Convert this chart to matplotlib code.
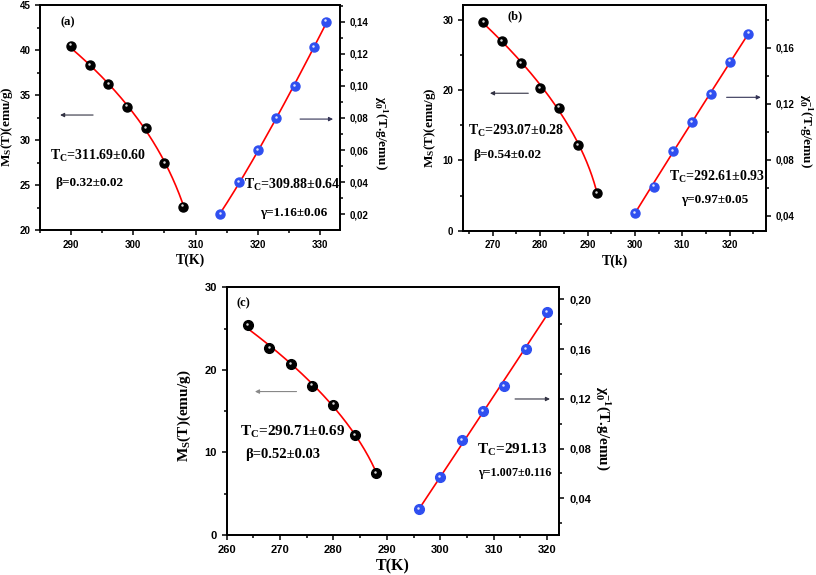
import numpy as np
import matplotlib
matplotlib.use("Agg")
import matplotlib.pyplot as plt
import matplotlib.transforms as mtransforms
from matplotlib.ticker import MultipleLocator, FuncFormatter

plt.rcParams["font.family"] = ["Liberation Serif", "DejaVu Serif"]
plt.rcParams["font.weight"] = "bold"
plt.rcParams["axes.labelweight"] = "bold"
plt.rcParams["mathtext.fontset"] = "custom"
plt.rcParams["mathtext.rm"] = "Liberation Serif:bold"
plt.rcParams["mathtext.it"] = "Liberation Serif:bold"
plt.rcParams["mathtext.bf"] = "Liberation Serif:bold"

# panel (a)
a_ms_t = [290, 293, 296, 299, 302, 305, 308]
a_ms = [40.5, 38.3, 36.2, 33.7, 31.3, 27.4, 22.6]
a_chi_t = [314, 317, 320, 323, 326, 329, 331]
a_chi = [0.020, 0.040, 0.060, 0.080, 0.100, 0.124, 0.140]
a_fit = {"tc_ms": 311.69, "beta": 0.32, "tc_chi": 309.88, "gamma": 1.16}

# panel (b)
b_ms_t = [268, 272, 276, 280, 284, 288, 292]
b_ms = [29.7, 27.0, 23.8, 20.3, 17.5, 12.2, 5.3]
b_chi_t = [300, 304, 308, 312, 316, 320, 324]
b_chi = [0.042, 0.061, 0.086, 0.107, 0.127, 0.150, 0.170]
b_fit = {"tc_ms": 293.07, "beta": 0.54, "tc_chi": 292.61, "gamma": 0.97}

# panel (c)
c_ms_t = [264, 268, 272, 276, 280, 284, 288]
c_ms = [25.4, 22.6, 20.7, 18.1, 15.8, 12.1, 7.5]
c_chi_t = [296, 300, 304, 308, 312, 316, 320]
c_chi = [0.031, 0.057, 0.087, 0.110, 0.130, 0.160, 0.190]
c_fit = {"tc_ms": 290.71, "beta": 0.52, "tc_chi": 291.13, "gamma": 1.007}

comma = FuncFormatter(lambda v, p: f"{v:.2f}".replace(".", ","))


def power_fit(t, vals, tc, expo, below):
    """Least-squares amplitude for the critical power law, returns smooth curve."""
    t = np.asarray(t, float)
    vals = np.asarray(vals, float)
    base = (tc - t) if below else (t - tc)
    g = base ** expo
    amp = np.sum(g * vals) / np.sum(g * g)
    tt = np.linspace(t.min(), t.max(), 200)
    bb = (tc - tt) if below else (tt - tc)
    return tt, amp * bb ** expo


def balls(ax, x, y, color, size):
    ax.plot(x, y, "o", color=color, ms=size, mec=color, zorder=4, clip_on=False)
    shift = mtransforms.offset_copy(ax.transData, fig=ax.figure, x=-0.6, y=0.9, units="points")
    ax.plot(x, y, "o", color="white", ms=1.8, mew=0, alpha=0.85, zorder=5,
            transform=shift, clip_on=False)


def style_axis(ax, tick_size):
    for s in ax.spines.values():
        s.set_linewidth(1.3)
    ax.tick_params(which="both", direction="out", width=1.1, top=False)
    ax.tick_params(which="major", length=3.5)
    ax.tick_params(which="minor", length=2)
    for lab in ax.get_xticklabels() + ax.get_yticklabels():
        lab.set_family("Liberation Sans")
        lab.set_weight("bold")
        lab.set_fontsize(tick_size)


def panel(fig, rect, ms_t, ms, chi_t, chi, fit, lims, steps, texts, arrows, sizes):
    ax = fig.add_axes(rect)
    ax2 = ax.twinx()
    ax.set_xlim(*lims["x"])
    ax.set_ylim(*lims["y1"])
    ax2.set_ylim(*lims["y2"])

    tt, mm = power_fit(ms_t, ms, fit["tc_ms"], fit["beta"], True)
    ax.plot(tt, mm, color="red", lw=1.2, zorder=3)
    balls(ax, ms_t, ms, "black", sizes["ball"])
    tt, cc = power_fit(chi_t, chi, fit["tc_chi"], fit["gamma"], False)
    ax2.plot(tt, cc, color="red", lw=1.2, zorder=3)
    balls(ax2, chi_t, chi, "#2f4ff0", sizes["ball"])

    ax.xaxis.set_major_locator(MultipleLocator(10))
    ax.xaxis.set_minor_locator(MultipleLocator(5))
    ax.yaxis.set_major_locator(MultipleLocator(steps[0]))
    ax.yaxis.set_minor_locator(MultipleLocator(steps[0] / 2))
    ax2.yaxis.set_major_locator(MultipleLocator(steps[1]))
    ax2.yaxis.set_minor_locator(MultipleLocator(steps[1] / 2))
    ax2.yaxis.set_major_formatter(comma)
    ax.tick_params(right=False, which="both")
    style_axis(ax, sizes["tick"])
    style_axis(ax2, sizes["tick"])

    ax.set_xlabel(texts["xlabel"], fontsize=sizes["label"], labelpad=3)
    ax.set_ylabel(r"$\mathrm{M_S}$(T)(emu/g)", fontsize=sizes["ylabel"])
    ax.yaxis.set_label_coords(*sizes["lpos"])
    ax2.set_ylabel(r"$\chi_0^{-1}$(T.g/emu)", fontsize=sizes["ylabel"], rotation=270,
                   va="center")
    ax2.yaxis.set_label_coords(*sizes["rpos"])

    ax.text(*texts["tag_xy"], texts["tag"], transform=ax.transAxes, fontsize=9,
            ha="center", va="center")
    for (x, y), s, fs in texts["notes"]:
        ax.text(x, y, s, transform=ax.transAxes, fontsize=fs, ha="left", va="center")
    for (x0, x1, y, col) in arrows:
        ax.annotate("", xy=(x1, y), xytext=(x0, y), xycoords="axes fraction",
                    arrowprops=dict(arrowstyle="-|>", color=col, lw=0.8,
                                    mutation_scale=6, shrinkA=0, shrinkB=0))
    return ax, ax2


fig = plt.figure(figsize=(8.16, 5.75), dpi=100)

panel(fig, [0.049, 0.600, 0.3676, 0.3913], a_ms_t, a_ms, a_chi_t, a_chi, a_fit,
      {"x": (285, 333.2), "y1": (20, 45), "y2": (0.0102, 0.1504)}, (5, 0.02),
      {"xlabel": "T(K)", "tag": "(a)", "tag_xy": (0.092, 0.924),
       "notes": [((0.035, 0.33), r"T$_\mathrm{C}$=311.69±0.60", 10),
                 ((0.05, 0.21), "β=0.32±0.02", 9.5),
                 ((0.68, 0.20), r"T$_\mathrm{C}$=309.88±0.64", 10),
                 ((0.733, 0.075), "γ=1.16±0.06", 9.5)]},
      [(0.177, 0.067, 0.511, "#333344"), (0.867, 0.977, 0.493, "#333355")],
      {"label": 10, "ylabel": 9.5, "tick": 7, "ball": 6.5,
       "lpos": (-0.083, 0.46), "rpos": (1.137, 0.43)})

panel(fig, [0.5674, 0.5988, 0.3713, 0.3925], b_ms_t, b_ms, b_chi_t, b_chi, b_fit,
      {"x": (263.7, 327.7), "y1": (0, 32.1), "y2": (0.0295, 0.1904)}, (10, 0.04),
      {"xlabel": "T(k)", "tag": "(b)", "tag_xy": (0.172, 0.948),
       "notes": [((0.015, 0.44), r"T$_\mathrm{C}$=293.07±0.28", 10),
                 ((0.034, 0.335), "β=0.54±0.02", 9.5),
                 ((0.68, 0.24), r"T$_\mathrm{C}$=292.61±0.93", 10),
                 ((0.72, 0.136), "γ=0.97±0.05", 9.5)]},
      [(0.2155, 0.089, 0.609, "#333344"), (0.870, 0.983, 0.591, "#333355")],
      {"label": 10, "ylabel": 9.5, "tick": 7, "ball": 6.5,
       "lpos": (-0.083, 0.457), "rpos": (1.132, 0.44)})

panel(fig, [0.2778, 0.0696, 0.4076, 0.4308], c_ms_t, c_ms, c_chi_t, c_chi, c_fit,
      {"x": (260, 322.3), "y1": (0, 30), "y2": (0.0105, 0.2097)}, (10, 0.04),
      {"xlabel": "T(K)", "tag": "(c)", "tag_xy": (0.05, 0.935),
       "notes": [((0.04, 0.417), r"T$_\mathrm{C}$=290.71±0.69", 11),
                 ((0.055, 0.323), "β=0.52±0.03", 10.5),
                 ((0.752, 0.343), r"T$_\mathrm{C}$=291.13", 11),
                 ((0.755, 0.249), "γ=1.007±0.116", 8.7)]},
      [(0.210, 0.085, 0.579, "#888888"), (0.867, 0.972, 0.549, "#333344")],
      {"label": 11.5, "ylabel": 11, "tick": 8, "ball": 7,
       "lpos": (-0.101, 0.48), "rpos": (1.13, 0.43)})

fig.savefig("out.png", dpi=100)
